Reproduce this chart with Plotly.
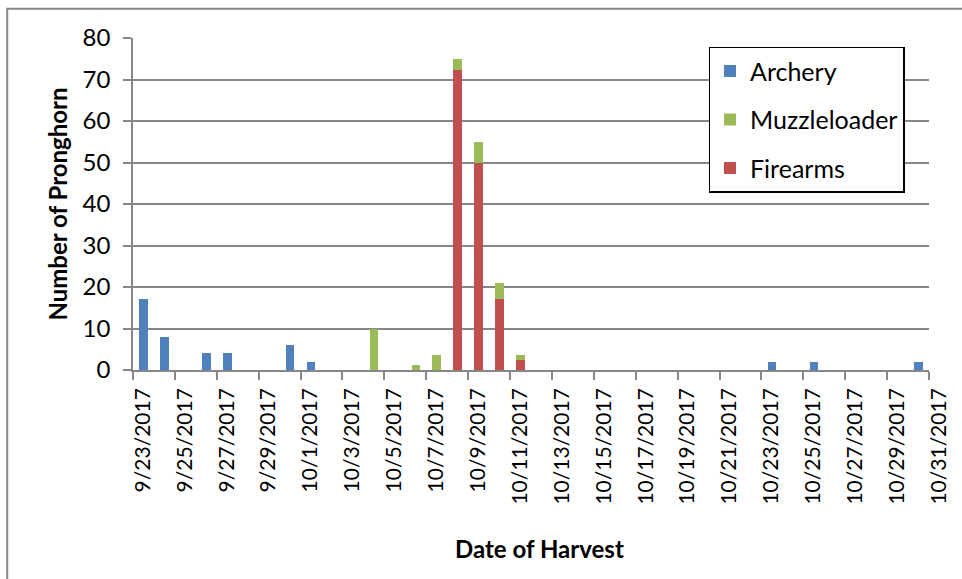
import pandas as pd
import plotly.graph_objects as go

# Daily pronghorn harvest by weapon type
archery_dates = ["2017-09-23", "2017-09-24", "2017-09-26", "2017-09-27", "2017-09-30",
                 "2017-10-01", "2017-10-23", "2017-10-25", "2017-10-30"]
archery_counts = [17, 8, 4, 4, 6, 2, 2, 2, 2]

muzzle_dates = ["2017-10-04", "2017-10-06", "2017-10-07", "2017-10-08", "2017-10-09",
                "2017-10-10", "2017-10-11"]
muzzle_counts = [10, 1.1, 3.7, 2.8, 5, 3.8, 1.3]

firearm_dates = ["2017-10-08", "2017-10-09", "2017-10-10", "2017-10-11"]
firearm_counts = [72.2, 50, 17.1, 2.3]

x_start = "2017-09-23"
x_end = "2017-10-31"
y_ticks = [0, 10, 20, 30, 40, 50, 60, 70, 80]

DAY_MS = 86400000
FONT = "Lato"
GRID = "#878787"


def day_centres(dates):
    # each day occupies the slot between its own tick and the next day's
    return pd.to_datetime(dates) + pd.Timedelta(hours=12)


fig = go.Figure()
fig.add_trace(go.Bar(name="Firearms", x=day_centres(firearm_dates), y=firearm_counts,
                     marker_color="#C0504D", legendgroup="c", legendrank=3))
fig.add_trace(go.Bar(name="Muzzleloader", x=day_centres(muzzle_dates), y=muzzle_counts,
                     marker_color="#9BBB59", legendgroup="b", legendrank=2))
fig.add_trace(go.Bar(name="Archery", x=day_centres(archery_dates), y=archery_counts,
                     marker_color="#4F81BD", legendgroup="a", legendrank=1))
fig.update_traces(width=0.41 * DAY_MS, marker_line_width=0)

fig.update_layout(
    width=962, height=579,
    margin=dict(l=133, r=31, t=38, b=209),
    barmode="stack",
    plot_bgcolor="white", paper_bgcolor="white",
    font=dict(family=FONT, size=22, color="black"),
    showlegend=True,
    legend=dict(
        x=0.723, y=0.974, xanchor="left", yanchor="top",
        bgcolor="white", bordercolor="black", borderwidth=1.5,
        traceorder="grouped", tracegroupgap=13,
        font=dict(family=FONT, size=25, color="black"),
    ),
    xaxis=dict(
        type="date", range=[x_start, x_end],
        tick0=x_start, dtick=2 * DAY_MS, tickformat="%-m/%-d/%Y",
        tickangle=-90, ticks="outside", ticklen=8, tickcolor=GRID, tickwidth=1.5,
        ticklabelshift=10,
        showline=True, linecolor=GRID, linewidth=1.5,
        showgrid=False, zeroline=False,
        tickfont=dict(family=FONT, size=21),
    ),
    yaxis=dict(
        range=[0, 80], tickvals=y_ticks,
        ticks="outside", ticklen=8, tickcolor=GRID, tickwidth=1.5,
        ticklabelstandoff=8,
        showline=True, linecolor=GRID, linewidth=1.5,
        showgrid=True, gridcolor=GRID, gridwidth=1.5, zeroline=False,
        tickfont=dict(family=FONT, size=24),
        title=dict(text="<b>Number of Pronghorn</b>", font=dict(family=FONT, size=24), standoff=8),
    ),
    annotations=[dict(
        text="<b>Date of Harvest</b>", xref="paper", yref="paper",
        x=0.511, y=-0.537, xanchor="center", yanchor="middle", showarrow=False,
        font=dict(family=FONT, size=24, color="black"),
    )],
    shapes=[dict(
        type="rect", xref="paper", yref="paper",
        x0=-0.158, x1=1.045, y0=-0.66, y1=1.088,
        line=dict(color="#878787", width=2), fillcolor="rgba(0,0,0,0)", layer="below",
    )],
)

fig.write_html("out.html")
